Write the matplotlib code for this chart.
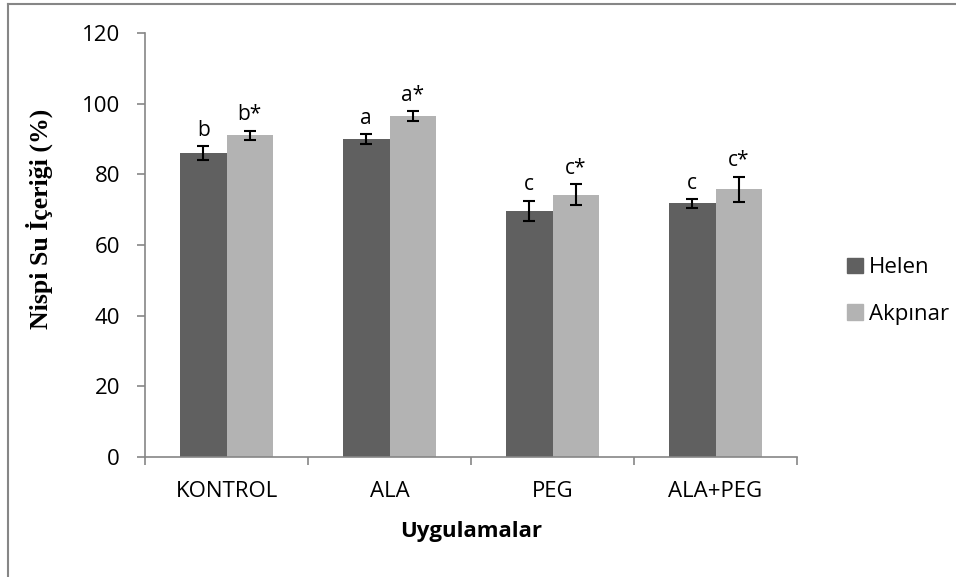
import matplotlib
matplotlib.use("Agg")
import numpy as np
import matplotlib.pyplot as plt
from matplotlib.lines import Line2D
from matplotlib.patches import Patch

# data
categories = ['KONTROL', 'ALA', 'PEG', 'ALA+PEG']
helen = [86.0, 89.9, 69.6, 71.8]
helen_err = [1.9, 1.4, 2.9, 1.2]
akpinar = [91.0, 96.4, 74.2, 75.8]
akpinar_err = [1.3, 1.4, 3.0, 3.5]
helen_letters = ['b', 'a', 'c', 'c']
akpinar_letters = ['b*', 'a*', 'c*', 'c*']

sans = 'Open Sans'
dark = '#606060'
light = '#b3b3b3'
axis_gray = '#868686'

fig = plt.figure(figsize=(9.56, 5.77), dpi=100)
ax = fig.add_axes([145 / 956, 1 - 457 / 577, 652 / 956, 424 / 577])

x = np.arange(len(categories))
w = 1 / 3.5
ax.bar(x - w / 2, helen, w, color=dark, label='Helen', zorder=2)
ax.bar(x + w / 2, akpinar, w, color=light, label='Akpınar', zorder=2)
ax.errorbar(x - w / 2, helen, yerr=helen_err, fmt='none', ecolor='black',
            elinewidth=1.5, capsize=4.5, capthick=1.5, zorder=3)
ax.errorbar(x + w / 2, akpinar, yerr=akpinar_err, fmt='none', ecolor='black',
            elinewidth=1.5, capsize=4.5, capthick=1.5, zorder=3)

# significance letters above the error bars
for i in range(len(categories)):
    ax.annotate(helen_letters[i], (x[i] - w / 2, helen[i] + helen_err[i]),
                xytext=(0, 4), textcoords='offset points', ha='center', va='bottom',
                fontsize=15, family=sans)
    ax.annotate(akpinar_letters[i], (x[i] + w / 2, akpinar[i] + akpinar_err[i]),
                xytext=(0, 4), textcoords='offset points', ha='center', va='bottom',
                fontsize=15, family=sans)

ax.set_xlim(-0.5, len(categories) - 0.5)
ax.set_ylim(0, 120)
ax.set_yticks(range(0, 121, 20))
ax.set_xticks(x)
ax.set_xticklabels(categories, fontsize=16, family=sans)
ax.set_xticks(np.arange(-0.5, len(categories), 1), minor=True)
ax.tick_params(axis='x', which='major', length=0, pad=17)
ax.tick_params(axis='x', which='minor', length=6, color=axis_gray, width=1.2)
ax.tick_params(axis='y', length=6, color=axis_gray, width=1.2, pad=12, labelsize=16)
for lab in ax.get_yticklabels():
    lab.set_family(sans)

for s in ['top', 'right']:
    ax.spines[s].set_visible(False)
for s in ['left', 'bottom']:
    ax.spines[s].set_color(axis_gray)
    ax.spines[s].set_linewidth(1.2)

ax.set_ylabel('Nispi Su İçeriği (%)', family='Liberation Serif', fontweight='bold', fontsize=18.5)
ax.yaxis.set_label_coords(-0.141, 0.561)
ax.set_xlabel('Uygulamalar', family=sans, fontweight='bold', fontsize=16)
ax.xaxis.set_label_coords(0.5, -0.151)

handles = [Patch(color=dark, label='Helen'), Patch(color=light, label='Akpınar')]
leg = fig.legend(handles=handles, loc='center left', bbox_to_anchor=(836 / 956, 1 - 291 / 577),
                 frameon=False, borderpad=0, handlelength=0.7, handleheight=0.7,
                 handletextpad=0.3, labelspacing=1.15, prop={'family': sans, 'size': 16})

# outer chart border (left and top only visible)
fig.add_artist(Line2D([8 / 956, 8 / 956], [0, 1 - 4 / 577], color=axis_gray, lw=1.5))
fig.add_artist(Line2D([8 / 956, 1], [1 - 4 / 577, 1 - 4 / 577], color=axis_gray, lw=1.5))

fig.savefig('out.png', dpi=100, facecolor='white')
